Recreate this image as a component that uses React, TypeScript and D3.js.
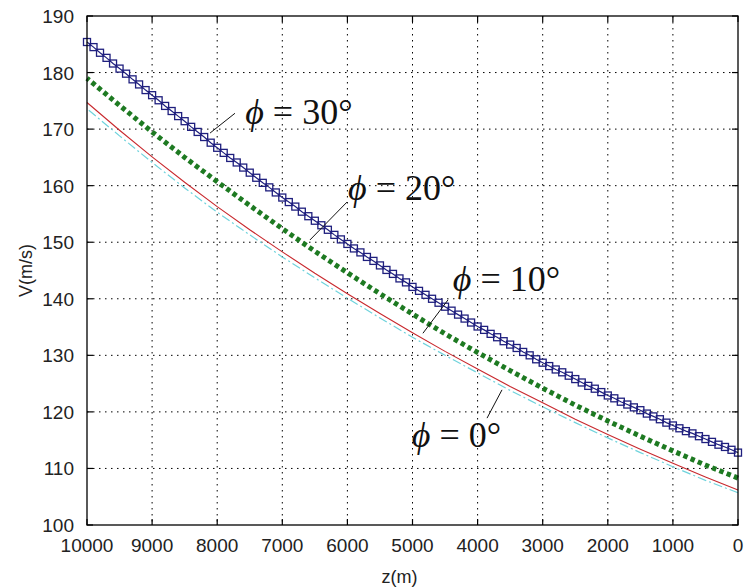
import React from "react";
import * as d3 from "d3";

// Altitude samples (m) for the phi = 30 deg series, every 100 m
const zBlue: number[] = d3.range(0, 10001, 100);
// Altitude samples (m) for the line-only series, every 500 m
const zLine: number[] = d3.range(0, 10001, 500);

// V (m/s) for phi = 30 deg, z = 0 .. 10000 step 100
const v30: number[] = [
  112.8, 113.3, 113.8, 114.2, 114.7, 115.2, 115.7, 116.2, 116.6, 117.1,
  117.6, 118.1, 118.7, 119.2, 119.7, 120.3, 120.8, 121.3, 121.8, 122.4,
  122.9, 123.5, 124.1, 124.6, 125.2, 125.8, 126.4, 127.0, 127.5, 128.1,
  128.7, 129.3, 130.0, 130.6, 131.3, 131.9, 132.5, 133.2, 133.8, 134.5,
  135.1, 135.8, 136.5, 137.2, 137.9, 138.6, 139.3, 140.0, 140.7, 141.4,
  142.1, 142.9, 143.6, 144.4, 145.1, 145.9, 146.7, 147.4, 148.2, 148.9,
  149.7, 150.5, 151.3, 152.2, 153.0, 153.8, 154.6, 155.4, 156.3, 157.1,
  157.9, 158.8, 159.7, 160.5, 161.4, 162.3, 163.2, 164.1, 164.9, 165.8,
  166.7, 167.6, 168.6, 169.5, 170.4, 171.4, 172.3, 173.2, 174.1, 175.1,
  176.0, 176.9, 177.9, 178.8, 179.8, 180.7, 181.6, 182.6, 183.5, 184.5,
  185.4,
];

// V (m/s) for phi = 20 deg, z = 0 .. 10000 step 500
const v20: number[] = [
  108.3, 110.6, 113.1, 115.7, 118.4, 121.2, 124.2, 127.3, 130.5, 133.8,
  137.3, 140.9, 144.6, 148.4, 152.4, 156.5, 160.7, 165.0, 169.5, 174.2,
  179.0,
];

// V (m/s) for phi = 10 deg, z = 0 .. 10000 step 500
const v10: number[] = [
  106.2, 108.5, 110.9, 113.4, 116.0, 118.7, 121.6, 124.5, 127.6, 130.7,
  134.0, 137.4, 140.9, 144.5, 148.3, 152.2, 156.3, 160.6, 165.1, 169.8,
  174.7,
];

// V (m/s) for phi = 0 deg, z = 0 .. 10000 step 500
const v0: number[] = [
  105.7, 107.9, 110.3, 112.8, 115.4, 118.1, 120.9, 123.8, 126.9, 130.0,
  133.2, 136.6, 140.1, 143.7, 147.4, 151.3, 155.3, 159.6, 164.1, 168.8,
  173.6,
];

const xTicks: number[] = [10000, 9000, 8000, 7000, 6000, 5000, 4000, 3000, 2000, 1000, 0];
const yTicks: number[] = [100, 110, 120, 130, 140, 150, 160, 170, 180, 190];

// Curve labels: angle text and text position (z, baseline V)
const labelAngles: string[] = ["30", "20", "10", "0"];
const labelZ: number[] = [7570, 5990, 4380, 5010];
const labelV: number[] = [170.9, 157.5, 141.4, 113.8];
// Pointer lines from near each curve to its label, in (z, V)
const pointerFromZ: number[] = [8110, 6575, 4840, 3625];
const pointerFromV: number[] = [169.3, 150.4, 133.9, 123.9];
const pointerToZ: number[] = [7727, 6006, 4455, 3855];
const pointerToV: number[] = [172.8, 157.1, 139.8, 118.9];

const W = 747;
const H = 588;
const left = 87;
const right = 738;
const top = 16;
const bottom = 525;

const sansFont = "'Liberation Sans', Arial, sans-serif";

export default function App() {
  const x = d3.scaleLinear().domain([10000, 0]).range([left, right]);
  const y = d3.scaleLinear().domain([100, 190]).range([bottom, top]);

  const blue = zBlue.map((z, i) => [z, v30[i]] as [number, number]);
  const green = zLine.map((z, i) => [z, v20[i]] as [number, number]);
  const red = zLine.map((z, i) => [z, v10[i]] as [number, number]);
  const cyan = zLine.map((z, i) => [z, v0[i]] as [number, number]);

  const line = d3
    .line<[number, number]>()
    .x((d) => x(d[0]))
    .y((d) => y(d[1]));

  const sq = 7;

  return (
    <svg
      width={W}
      height={H}
      style={{ position: "absolute", left: 0, top: 0, background: "#fff" }}
      fontFamily={sansFont}
    >
      <rect x={0} y={0} width={W} height={H} fill="#fff" />
      {/* dotted grid */}
      <g stroke="#000" strokeWidth={1} strokeDasharray="1.5,4.5">
        {xTicks
          .filter((t) => t !== 10000 && t !== 0)
          .map((t) => (
            <line key={"gx" + t} x1={x(t)} x2={x(t)} y1={top} y2={bottom} />
          ))}
        {yTicks
          .filter((t) => t !== 100 && t !== 190)
          .map((t) => (
            <line key={"gy" + t} x1={left} x2={right} y1={y(t)} y2={y(t)} />
          ))}
      </g>

      {/* series */}
      <path d={line(cyan) || ""} fill="none" stroke="#6fd3dc" strokeWidth={1.2} strokeDasharray="9,3,2,3" />
      <path d={line(red) || ""} fill="none" stroke="#c8282d" strokeWidth={1.1} />
      <path d={line(green) || ""} fill="none" stroke="#1e7a22" strokeWidth={5} strokeDasharray="4.4,3.4" />
      <path d={line(blue) || ""} fill="none" stroke="#1f1f7e" strokeWidth={1.2} />
      <g fill="none" stroke="#1f1f7e" strokeWidth={1.3}>
        {blue.map((d, i) => (
          <rect key={i} x={x(d[0]) - sq / 2} y={y(d[1]) - sq / 2} width={sq} height={sq} />
        ))}
      </g>

      {/* axes box and ticks */}
      <rect x={left} y={top} width={right - left} height={bottom - top} fill="none" stroke="#000" strokeWidth={1.3} />
      <g stroke="#000" strokeWidth={1.2}>
        {xTicks.map((t) => (
          <g key={"tx" + t}>
            <line x1={x(t)} x2={x(t)} y1={bottom} y2={bottom - 6} />
            <line x1={x(t)} x2={x(t)} y1={top} y2={top + 6} />
          </g>
        ))}
        {yTicks.map((t) => (
          <g key={"ty" + t}>
            <line x1={left} x2={left + 6} y1={y(t)} y2={y(t)} />
            <line x1={right} x2={right - 6} y1={y(t)} y2={y(t)} />
          </g>
        ))}
      </g>
      <g fontSize={19} fill="#222">
        {xTicks.map((t) => (
          <text key={"lx" + t} x={x(t)} y={bottom + 27} textAnchor="middle">
            {t}
          </text>
        ))}
        {yTicks.map((t) => (
          <text key={"ly" + t} x={left - 13} y={y(t) + 7} textAnchor="end">
            {t}
          </text>
        ))}
      </g>
      <text x={(left + right) / 2 - 13} y={bottom + 58} textAnchor="middle" fontSize={18} fill="#222">
        z(m)
      </text>
      <text
        transform={`translate(${left - 55},${(top + bottom) / 2}) rotate(-90)`}
        textAnchor="middle"
        fontSize={18}
        fill="#222"
      >
        V(m/s)
      </text>

      {/* curve labels with pointer lines */}
      {labelAngles.map((a, i) => (
        <g key={"lab" + a}>
          <line
            x1={x(pointerFromZ[i])}
            y1={y(pointerFromV[i])}
            x2={x(pointerToZ[i])}
            y2={y(pointerToV[i])}
            stroke="#111"
            strokeWidth={1}
          />
          <text
            x={x(labelZ[i])}
            y={y(labelV[i])}
            fontSize={36}
            fill="#111"
            fontFamily="'Liberation Serif', 'DejaVu Serif', serif"
          >
            <tspan fontStyle="italic">ϕ</tspan>
            <tspan> = {a}°</tspan>
          </text>
        </g>
      ))}
    </svg>
  );
}
